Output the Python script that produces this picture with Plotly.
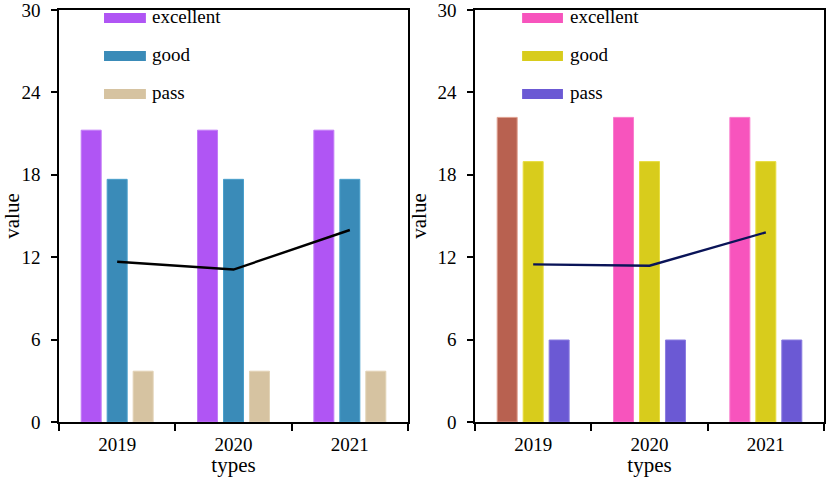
import plotly.graph_objects as go

# data
years = ["2019", "2020", "2021"]
series_names = ["excellent", "good", "pass"]

left_values = {
    "excellent": [21.25, 21.25, 21.25],
    "good": [17.67, 17.67, 17.67],
    "pass": [3.7, 3.7, 3.7],
}
left_line = [11.67, 11.1, 13.98]

right_values = {
    "excellent": [22.18, 22.18, 22.18],
    "good": [18.96, 18.96, 18.96],
    "pass": [5.97, 5.97, 5.97],
}
right_line = [11.48, 11.38, 13.81]

y_ticks = [0, 6, 12, 18, 24, 30]

# styles
left_colors = {"excellent": "#b055f4", "good": "#3a8bb8", "pass": "#d6c3a1"}
left_edges = {"excellent": "#c27cf7", "good": "#4aa0cc", "pass": "#e2d3b6"}
right_colors = {"excellent": "#f754bd", "good": "#d8cc1c", "pass": "#6b59d4"}
right_edges = {"excellent": "#f97ccd", "good": "#e8de40", "pass": "#8a7ce0"}
right_first_excellent = "#b86150"
right_first_edge = "#e0a090"

FONT = "Liberation Serif, Times New Roman, Times, serif"
fig = go.Figure()

def add_panel(values, line_vals, colors, edges, xa, ya, line_color, first_override=None, first_edge=None):
    for name in series_names:
        c = [colors[name]] * len(years)
        e = [edges[name]] * len(years)
        if first_override and name == "excellent":
            c[0] = first_override
            e[0] = first_edge
        fig.add_trace(go.Bar(
            x=years, y=values[name], name=name,
            marker=dict(color=c, line=dict(color=e, width=1)),
            xaxis=xa, yaxis=ya, showlegend=False,
        ))
    fig.add_trace(go.Scatter(
        x=years, y=line_vals, mode="lines",
        line=dict(color=line_color, width=2.4),
        xaxis=xa, yaxis=ya, showlegend=False,
    ))

add_panel(left_values, left_line, left_colors, left_edges, "x", "y", "#000000")
add_panel(right_values, right_line, right_colors, right_edges, "x2", "y2", "#0a1458",
          right_first_excellent, right_first_edge)

W, H = 829, 477
x_dom1 = [59 / W, 408 / W]
x_dom2 = [475 / W, 824 / W]
y_dom = [(H - 422) / H, (H - 10) / H]

axis_common = dict(
    showline=True, linecolor="black", linewidth=1.5, mirror=True,
    showgrid=False, zeroline=False, automargin=False,
    ticklabeloverflow="allow",
    tickfont=dict(family=FONT, size=19, color="black"),
)

for i, (xd, xa, ya) in enumerate([(x_dom1, "xaxis", "yaxis"), (x_dom2, "xaxis2", "yaxis2")]):
    anchor_y = "y" if i == 0 else "y2"
    anchor_x = "x" if i == 0 else "x2"
    fig.layout[xa] = dict(
        domain=xd, anchor=anchor_y, type="category",
        ticks="outside", ticklen=7, tickwidth=1.5, tickcolor="black",
        tickson="boundaries", ticklabelstandoff=4,
        title=dict(text="types", font=dict(family=FONT, size=21, color="black"), standoff=0),
        **axis_common,
    )
    fig.layout[ya] = dict(
        domain=y_dom, anchor=anchor_x, range=[0, 30.001],
        tickvals=y_ticks, ticks="outside", ticklen=6, tickwidth=1.5, tickcolor="black",
        ticklabelstandoff=7,
        title=dict(text="value", font=dict(family=FONT, size=21, color="black"), standoff=5),
        **axis_common,
    )

# manual legends
legend_rows = [0.9806, 0.8883, 0.7961]
half_h = 0.0121
for xd_ref, yd_ref, colors, x0, x1, xt in [
    ("x domain", "y domain", left_colors, 0.129, 0.249, 0.261),
    ("x2 domain", "y2 domain", right_colors, 0.135, 0.252, 0.266),
]:
    for name, yc in zip(series_names, legend_rows):
        fig.add_shape(type="rect", xref=xd_ref, yref=yd_ref,
                      x0=x0, x1=x1, y0=yc - half_h, y1=yc + half_h,
                      fillcolor=colors[name], line=dict(width=0), layer="above")
        fig.add_annotation(xref=xd_ref, yref=yd_ref, x=xt, y=yc + 0.004,
                           text=name, showarrow=False, xanchor="left", yanchor="middle",
                           font=dict(family=FONT, size=19, color="black"))

fig.update_layout(
    width=W, height=H,
    margin=dict(l=0, r=0, t=0, b=0),
    paper_bgcolor="white", plot_bgcolor="white",
    barmode="group", bargap=0.33, bargroupgap=0.23,
    font=dict(family=FONT, size=19, color="black"),
)

fig.write_html("out.html", config={"displayModeBar": False},
               post_script="document.body.style.margin='0';")
